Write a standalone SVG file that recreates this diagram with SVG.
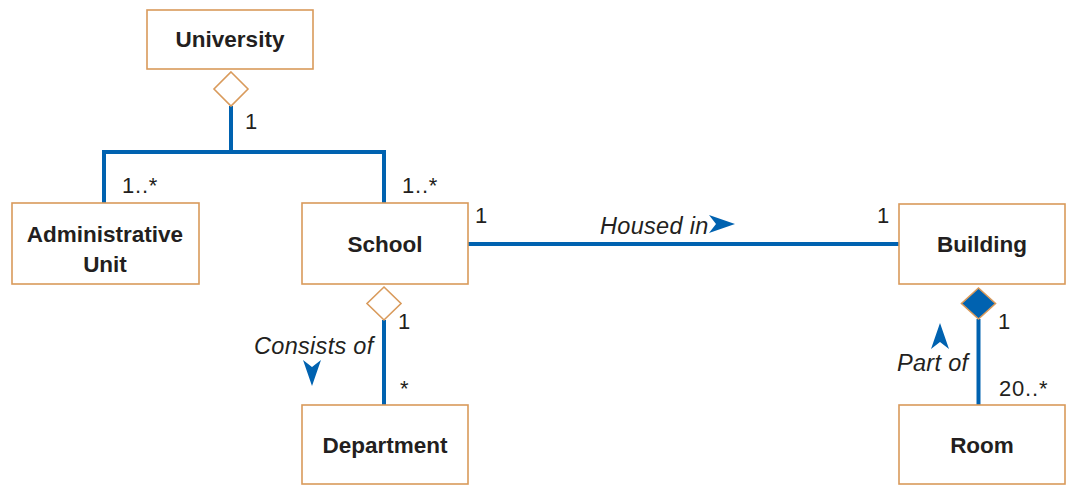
<svg xmlns="http://www.w3.org/2000/svg" width="1069" height="485" viewBox="0 0 1069 485">
  <style>
    .box { fill: #ffffff; stroke: #D99A5B; stroke-width: 1.6; }
    .name { font-family: "Liberation Sans", Arial, sans-serif; font-weight: bold; font-size: 22.5px; fill: #231F20; text-anchor: middle; }
    .mult { font-family: "Liberation Sans", Arial, sans-serif; font-size: 22px; fill: #231F20; letter-spacing: 0.8px; }
    .role { font-family: "Liberation Sans", Arial, sans-serif; font-style: italic; font-size: 23.5px; fill: #231F20; letter-spacing: 0.3px; }
    .line { fill: none; stroke: #0062B0; stroke-width: 4; }
    .agg { fill: #ffffff; stroke: #D99A5B; stroke-width: 1.6; }
    .comp { fill: #0062B0; stroke: #D99A5B; stroke-width: 1.6; }
    .dir { fill: #0062B0; }
  </style>

  <g id="connectors">
    <!-- University aggregation tree -->
    <polyline class="line" points="231,106 231,152"/>
    <polyline class="line" points="104,203 104,152 384,152 384,203"/>
    <!-- School - Building -->
    <line class="line" x1="468" y1="244" x2="900" y2="244"/>
    <!-- School - Department -->
    <line class="line" x1="384" y1="320" x2="384" y2="405"/>
    <!-- Building - Room -->
    <line class="line" x1="978.5" y1="319" x2="978.5" y2="405"/>

    <!-- aggregation / composition diamonds -->
    <polygon class="agg" points="231,72 248,89 231,106 214,89"/>
    <polygon class="agg" points="384,287 401,303.5 384,320 367,303.5"/>
    <polygon class="comp" points="978.5,288 995.5,303.5 978.5,319 961.5,303.5"/>

    <!-- multiplicities -->
    <text class="mult" x="245" y="129">1</text>
    <text class="mult" x="122" y="193">1..*</text>
    <text class="mult" x="402" y="193">1..*</text>
    <text class="mult" x="475" y="223">1</text>
    <text class="mult" x="877" y="223">1</text>
    <text class="mult" x="398" y="329">1</text>
    <text class="mult" x="400" y="396">*</text>
    <text class="mult" x="998" y="329">1</text>
    <text class="mult" x="999" y="396">20..*</text>

    <!-- association names with direction arrows -->
    <text class="role" x="600" y="234">Housed in</text>
    <polygon class="dir" points="735,224 709,215 716,224 709,233"/>
    <text class="role" x="254" y="354">Consists of</text>
    <polygon class="dir" points="312,386 303,360 312,367 321,360"/>
    <text class="role" x="897" y="371">Part of</text>
    <polygon class="dir" points="940,323 931,349 940,342 949,349"/>
  </g>

  <g id="university">
    <rect class="box" x="147" y="10" width="166" height="59"/>
    <text class="name" x="230" y="47">University</text>
  </g>
  <g id="administrative-unit">
    <rect class="box" x="12" y="203" width="187" height="81"/>
    <text class="name" x="105" y="242">Administrative</text>
    <text class="name" x="105" y="272">Unit</text>
  </g>
  <g id="school">
    <rect class="box" x="302" y="203" width="166" height="81"/>
    <text class="name" x="385" y="252">School</text>
  </g>
  <g id="building">
    <rect class="box" x="899" y="204" width="166" height="80"/>
    <text class="name" x="982" y="252">Building</text>
  </g>
  <g id="department">
    <rect class="box" x="302" y="405" width="166" height="79"/>
    <text class="name" x="385" y="453">Department</text>
  </g>
  <g id="room">
    <rect class="box" x="899" y="405" width="166" height="79"/>
    <text class="name" x="982" y="453">Room</text>
  </g>
</svg>
